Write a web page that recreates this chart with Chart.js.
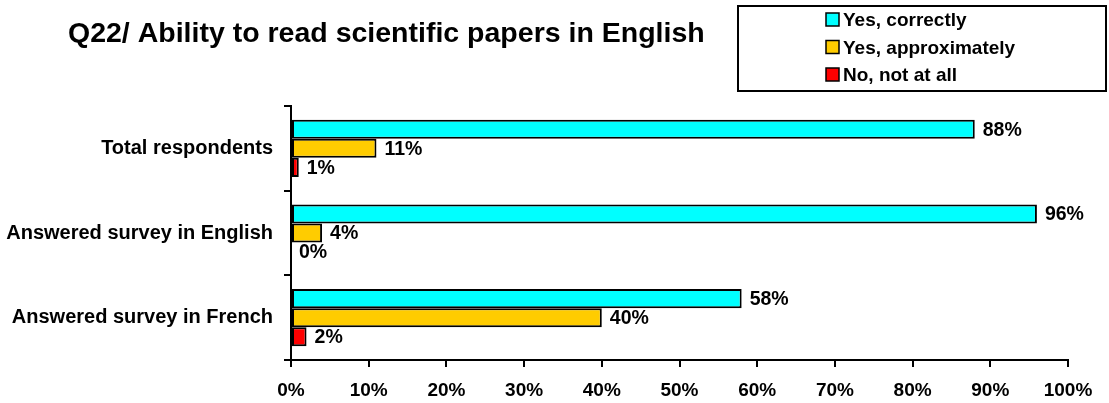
<!DOCTYPE html>
<html>
<head>
<meta charset="utf-8">
<script src="https://cdn.jsdelivr.net/npm/chart.js@4/dist/chart.umd.min.js"></script>
<style>
  body { margin: 0; background: #fff; }
  canvas { display: block; }
</style>
</head>
<body>
<canvas id="chart" width="1109" height="403"></canvas>
<script>
// data
const categories = ['Total respondents', 'Answered survey in English', 'Answered survey in French'];
const seriesNames = ['Yes, correctly', 'Yes, approximately', 'No, not at all'];
const correctly = [88, 96, 58];
const approximately = [11, 4, 40];
const notAtAll = [1, 0, 2];
const xTickValues = [0, 10, 20, 30, 40, 50, 60, 70, 80, 90, 100];
const titleText = 'Q22/ Ability to read scientific papers in English';

const colors = ['#00FFFF', '#FFCC00', '#FF0000'];
const FONT = '"Liberation Sans", Arial, sans-serif';

// === value labels next to each bar ===
const valueLabels = {
  id: 'valueLabels',
  afterDatasetsDraw(chart) {
    const ctx = chart.ctx;
    ctx.save();
    ctx.font = 'bold 19.5px ' + FONT;
    ctx.fillStyle = '#000';
    ctx.textAlign = 'left';
    ctx.textBaseline = 'middle';
    chart.data.datasets.forEach((ds, i) => {
      chart.getDatasetMeta(i).data.forEach((bar, j) => {
        ctx.fillText(ds.data[j] + '%', bar.x + 8, bar.y + 1);
      });
    });
    ctx.restore();
  }
};

// === title and boxed legend ===
const header = {
  id: 'header',
  afterDraw(chart) {
    const ctx = chart.ctx;
    ctx.save();
    ctx.fillStyle = '#000';
    ctx.font = 'bold 28.5px ' + FONT;
    ctx.textBaseline = 'alphabetic';
    ctx.fillText(titleText, 68, 42);

    // legend box
    ctx.lineWidth = 2;
    ctx.strokeStyle = '#000';
    ctx.strokeRect(738, 6, 368, 85);
    ctx.font = 'bold 19px ' + FONT;
    ctx.textBaseline = 'middle';
    seriesNames.forEach((name, i) => {
      const y = 20 + i * 27.5;
      ctx.fillStyle = colors[i];
      ctx.fillRect(826, y - 7, 13, 13);
      ctx.lineWidth = 1.5;
      ctx.strokeRect(826, y - 7, 13, 13);
      ctx.fillStyle = '#000';
      ctx.fillText(name, 843, y + 1);
    });
    ctx.restore();
  }
};

const datasets = [correctly, approximately, notAtAll].map((vals, i) => ({
  label: seriesNames[i],
  data: vals,
  backgroundColor: colors[i],
  borderColor: '#000',
  borderWidth: 2,
  borderSkipped: false,
  barPercentage: 1,
  categoryPercentage: 0.675
}));

new Chart(document.getElementById('chart'), {
  type: 'bar',
  data: { labels: categories, datasets },
  options: {
    responsive: false,
    animation: false,
    indexAxis: 'y',
    layout: { padding: { top: 106, right: 41, left: 0, bottom: 0 } },
    plugins: {
      legend: { display: false },
      title: { display: false },
      tooltip: { enabled: false }
    },
    scales: {
      x: {
        min: 0,
        max: 100,
        afterBuildTicks: axis => { axis.ticks = xTickValues.map(v => ({ value: v })); },
        ticks: {
          callback: v => v + '%',
          color: '#000',
          font: { family: FONT, size: 19, weight: 'bold' },
          padding: 12,
          maxRotation: 0
        },
        grid: { drawOnChartArea: false, tickLength: 7, color: '#000', lineWidth: 2 },
        border: { color: '#000', width: 2 },
        afterFit: axis => { axis.height = 43; }
      },
      y: {
        ticks: {
          color: '#000',
          font: { family: FONT, size: 20, weight: 'bold' },
          padding: 11
        },
        grid: { drawOnChartArea: false, tickLength: 7, color: '#000', lineWidth: 2, offset: true },
        border: { color: '#000', width: 2 },
        afterFit: axis => { axis.width = 291; }
      }
    }
  },
  plugins: [valueLabels, header]
});
</script>
</body>
</html>
